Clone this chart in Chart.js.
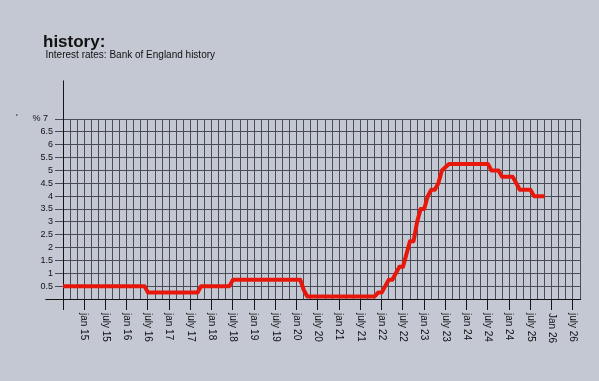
<!DOCTYPE html>
<html><head><meta charset="utf-8">
<script src="https://cdn.jsdelivr.net/npm/chart.js@4/dist/chart.umd.min.js"></script>
<style>html,body{margin:0;padding:0;background:#c4c8d3;overflow:hidden}canvas{display:block}</style>
</head><body><canvas id="c" width="599" height="381"></canvas>
<script>
// ---- data ----
const dates = ['2014-07','2016-06','2016-07','2017-09','2017-10','2018-06','2018-07','2020-02','2020-03','2020-04',
  '2021-11','2021-12','2022-01','2022-02','2022-03','2022-04','2022-05','2022-06','2022-07','2022-08',
  '2022-09','2022-10','2022-11','2022-12','2023-01','2023-02','2023-03','2023-04','2023-05','2023-06',
  '2023-08','2024-07','2024-08','2024-10','2024-11','2025-02','2025-03','2025-04','2025-07','2025-08','2025-11'];
const rates = [0.5,0.5,0.25,0.25,0.5,0.5,0.75,0.75,0.35,0.1,
  0.1,0.25,0.25,0.5,0.75,0.75,1.0,1.25,1.25,1.75,
  2.25,2.25,3.0,3.5,3.5,4.0,4.25,4.25,4.5,5.0,
  5.25,5.25,5.0,5.0,4.75,4.75,4.5,4.25,4.25,4.0,4.0];
const xTickLabels = ['jan 15','july 15','jan 16','july 16','jan 17','july 17','jan 18','july 18','jan 19','july 19',
  'jan 20','july 20','jan 21','july 21','jan 22','july 22','jan 23','july 23','jan 24','july 24',
  'jan 24','july 25','Jan 26','july 26'];
const titleText = 'history:';
const subtitleText = 'Interest rates: Bank of England history';

// month index relative to Jan 2015
function monthIndex(s){ const p = s.split('-').map(Number); return (p[0]-2015)*12 + (p[1]-1); }
const points = dates.map((d,i)=>({x: monthIndex(d), y: rates[i]}));

const FONT = '"Liberation Sans", Arial, Helvetica, sans-serif';
Chart.defaults.font.family = FONT;
const gridColor = '#4a4d57';
const axisColor = '#151515';
const textColor = '#111111';

const decor = {
  id: 'decor',
  afterDraw(chart){
    const {ctx, chartArea: a, scales: {x, y}} = chart;
    ctx.save();
    // headings
    ctx.fillStyle = textColor;
    ctx.textAlign = 'left'; ctx.textBaseline = 'alphabetic';
    ctx.font = 'bold 17px ' + FONT;
    ctx.fillText(titleText, 43, 46.5);
    ctx.font = '10px ' + FONT;
    ctx.fillText(subtitleText, 45.5, 57.5);
    // axis extensions
    ctx.strokeStyle = axisColor; ctx.lineWidth = 1;
    const xl = Math.round(x.getPixelForValue(-6)) + 0.5;
    ctx.beginPath(); ctx.moveTo(xl, y.getPixelForValue(8.5)); ctx.lineTo(xl, a.top); ctx.stroke();
    const yb = Math.round(y.getPixelForValue(0)) + 0.5;
    ctx.beginPath(); ctx.moveTo(x.getPixelForValue(-11), yb); ctx.lineTo(xl, yb); ctx.stroke();
    // rotated x tick labels (reading downward)
    ctx.font = '10px ' + FONT;
    ctx.textBaseline = 'middle';
    xTickLabels.forEach((t, i) => {
      const px = x.getPixelForValue(6 * i);
      ctx.save(); ctx.translate(px, a.bottom + 14); ctx.rotate(Math.PI / 2); ctx.fillText(t, 0, 0); ctx.restore();
    });
    ctx.font = '9px ' + FONT;
    ctx.fillText("'", a.left - 47, y.getPixelForValue(7) - 1);
    ctx.restore();
  }
};

new Chart(document.getElementById('c'), {
  type: 'line',
  data: { datasets: [{ data: points, borderColor: '#e8170c', borderWidth: 4, pointRadius: 0,
    tension: 0, fill: false, borderJoinStyle: 'round', borderCapStyle: 'butt' }] },
  options: {
    responsive: false, animation: false, events: [],
    layout: { padding: { left: 0, right: 19, top: 119, bottom: 0 }, autoPadding: false },
    plugins: { legend: { display: false }, tooltip: { enabled: false }, title: { display: false } },
    scales: {
      x: { type: 'linear', min: -6, max: 140,
        ticks: { stepSize: 2, display: false, autoSkip: false },
        grid: { color: gridColor, lineWidth: 1, tickLength: 11,
          tickColor: c => (c.tick && ((c.tick.value % 6) + 6) % 6 === 0) ? axisColor : 'rgba(0,0,0,0)' },
        border: { color: axisColor, width: 1 },
        afterFit: s => { s.height = 82; } },
      y: { type: 'linear', min: 0, max: 7,
        ticks: { stepSize: 0.5, autoSkip: false, color: textColor, font: { size: 9 }, padding: 2,
          callback: v => v === 0 ? '' : (v === 7 ? '% 7  ' : String(v)) },
        grid: { color: gridColor, lineWidth: 1, tickLength: 8, tickColor: gridColor },
        border: { color: axisColor, width: 1 },
        afterFit: s => { s.width = 63; } }
    }
  },
  plugins: [decor]
});
</script></body></html>
